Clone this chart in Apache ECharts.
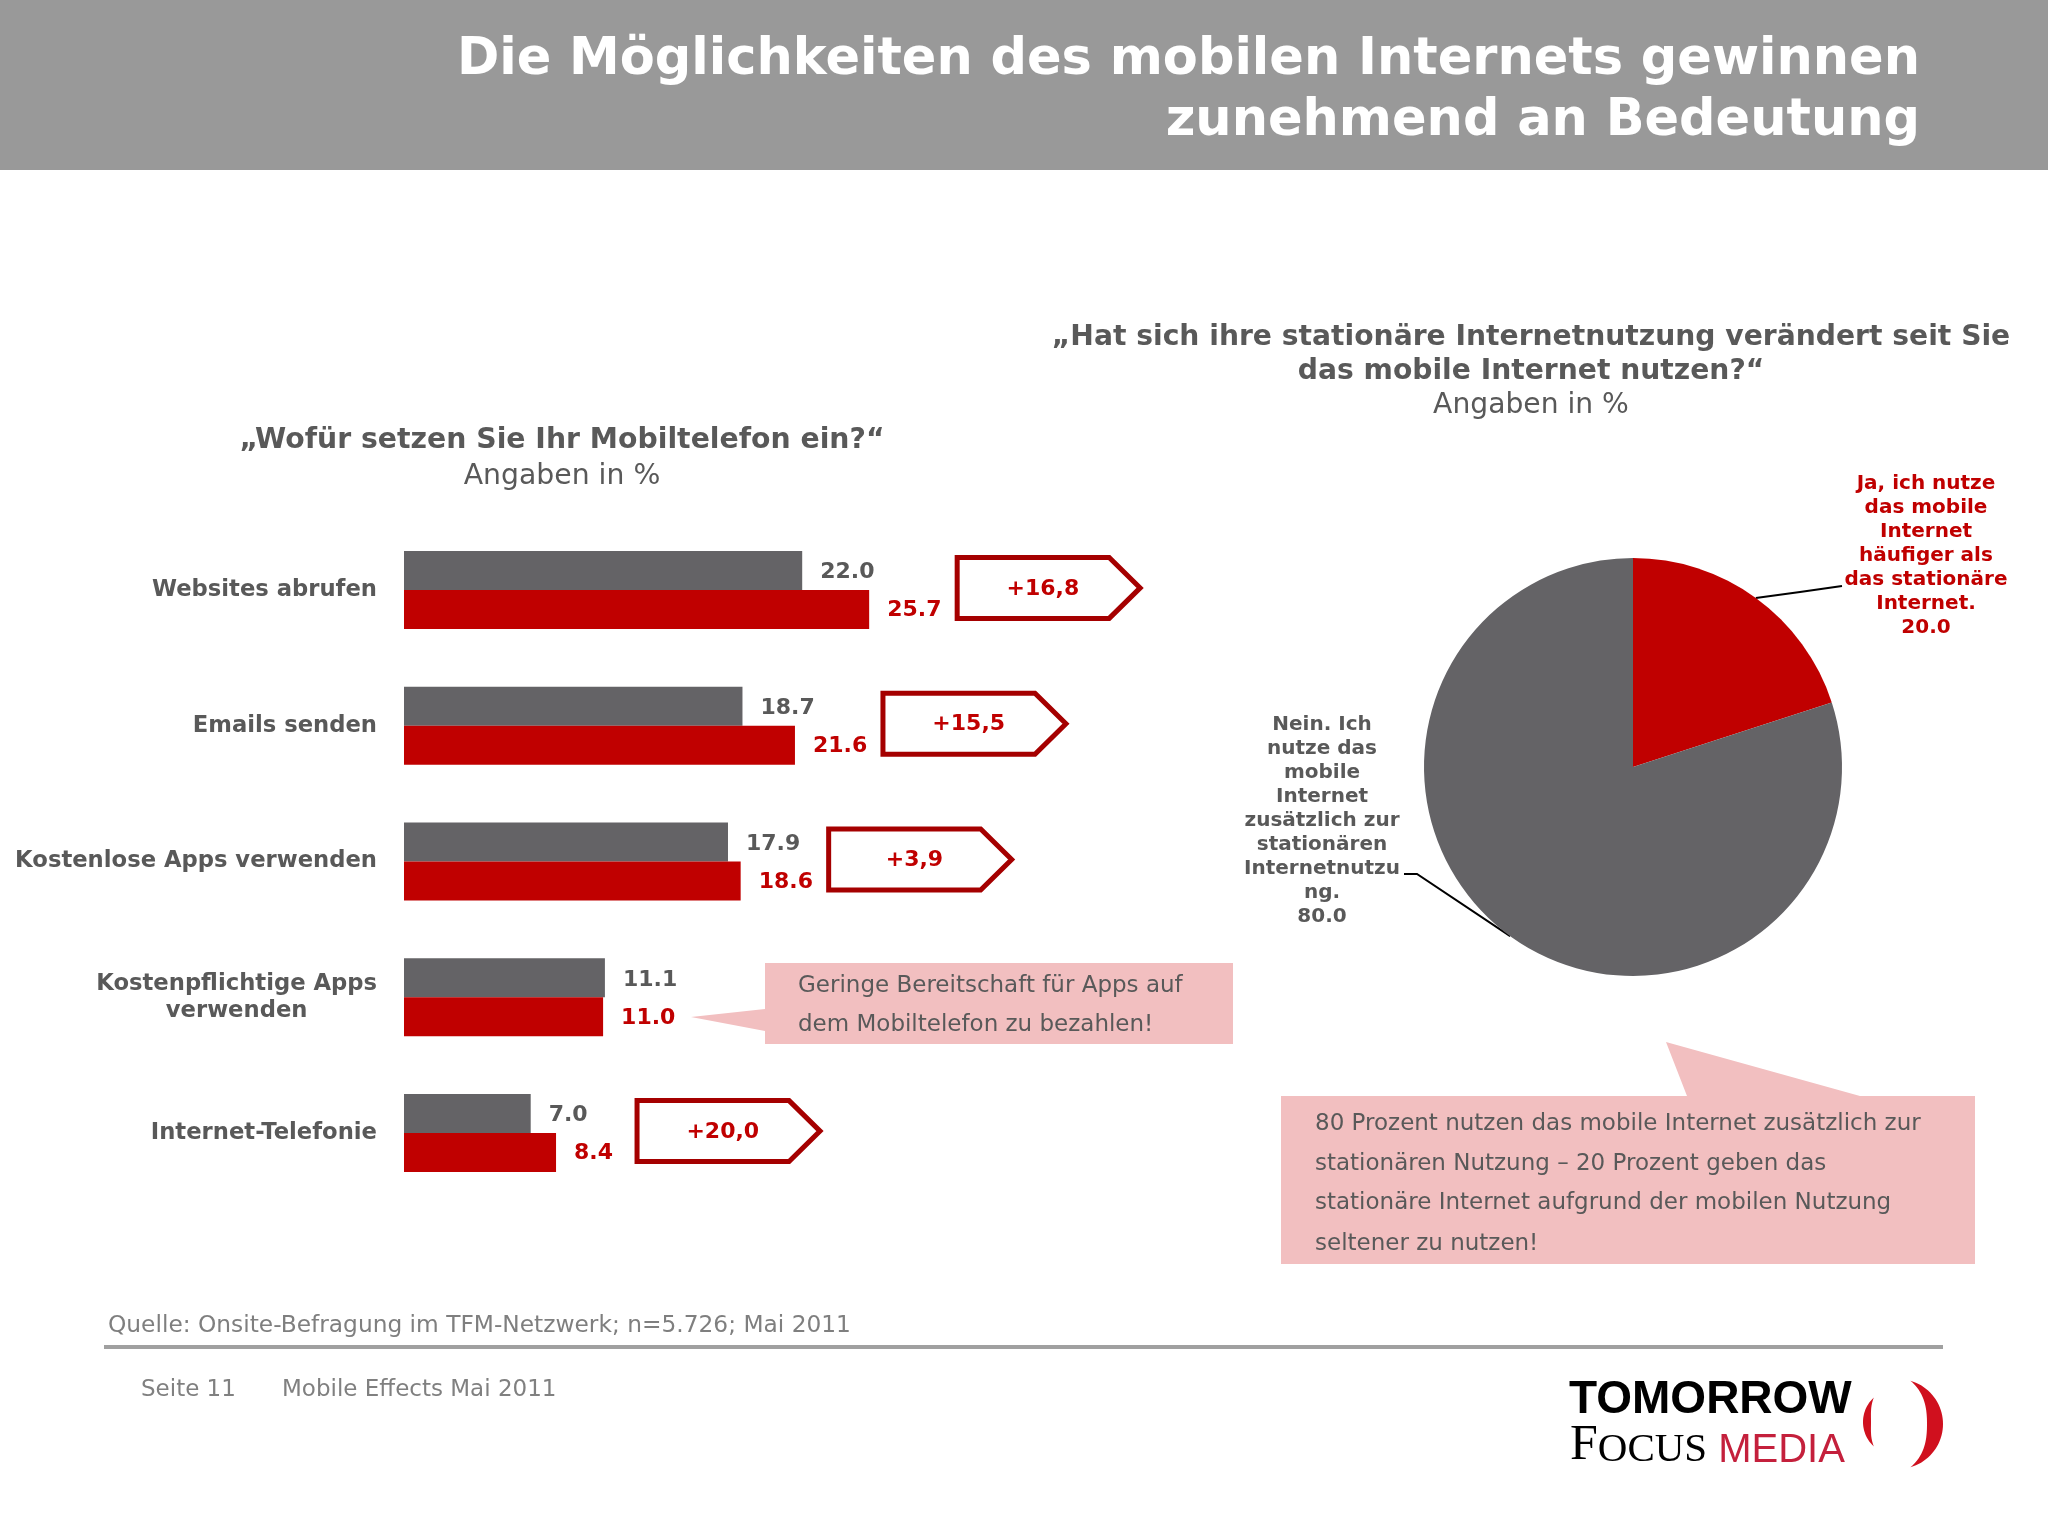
<!DOCTYPE html>
<html><head><meta charset="utf-8">
<script src="https://cdn.jsdelivr.net/npm/echarts@6/dist/echarts.min.js"></script>
<style>html,body{margin:0;padding:0;background:#fff}#c{width:2048px;height:1536px}</style>
</head><body><div id="c"></div>
<script>
// ---- data ----
const categories = ['Websites abrufen', 'Emails senden', 'Kostenlose Apps verwenden', 'Kostenpflichtige Apps\nverwenden', 'Internet-Telefonie'];
const greyValues = [22.0, 18.7, 17.9, 11.1, 7.0];
const redValues = [25.7, 21.6, 18.6, 11.0, 8.4];
const changeLabels = ['+16,8', '+15,5', '+3,9', null, '+20,0'];
const pieNames = ['Ja, ich nutze\ndas mobile\nInternet\nhäufiger als\ndas stationäre\nInternet.', 'Nein. Ich\nnutze das\nmobile\nInternet\nzusätzlich zur\nstationären\nInternetnutzu\nng.'];
const pieValues = [20.0, 80.0];

const FONT = '"DejaVu Sans", Verdana, sans-serif';
const GREY = '#646366', RED = '#c00000', TXT = '#595959', PINK = '#f2bfc0', DARKRED = '#a50000';
const PIE_C = [1633, 767], PIE_R = 209;

const chart = echarts.init(document.getElementById('c'));

const arrowData = [];
changeLabels.forEach((t, i) => { if (t) arrowData.push([redValues[i], i, t]); });

function crescent(cx, cy, R, a0, a1, w) {
  const pts = [], n = 40, mid = (a0 + a1) / 2, half = (a1 - a0) / 2;
  for (let k = 0; k <= n; k++) {
    const a = a0 + (a1 - a0) * k / n;
    pts.push([cx + R * Math.cos(a), cy + R * Math.sin(a)]);
  }
  for (let k = n; k >= 0; k--) {
    const a = a0 + (a1 - a0) * k / n;
    const th = w * Math.cos((a - mid) / half * Math.PI / 2);
    pts.push([cx + (R - th) * Math.cos(a), cy + (R - th) * Math.sin(a)]);
  }
  return pts;
}
const d2r = Math.PI / 180;

function txt(x, y, text, o) {
  return { type: 'text', x: x, y: y, silent: true, style: Object.assign({
    text: text, fontFamily: FONT, fontSize: 22, fill: TXT,
    align: 'left', verticalAlign: 'middle', textAlign: 'left', textVerticalAlign: 'middle'
  }, o || {}) };
}

// mid angle of each slice (clockwise from 12 o'clock), used for label-line start on the pie edge
const pieTotal = pieValues.reduce((a, b) => a + b, 0);
const pieMid = [];
(function () { let acc = 0; pieValues.forEach(v => { pieMid.push((acc + v / 2) / pieTotal * 360); acc += v; }); })();
function edgePoint(i, r) {
  const a = pieMid[i] * d2r;
  return [PIE_C[0] + r * Math.sin(a), PIE_C[1] - r * Math.cos(a)];
}

const option = {
  backgroundColor: '#ffffff',
  animation: false,
  grid: { left: 404, top: 522, width: 543, height: 679, containLabel: false },
  xAxis: { type: 'value', min: 0, max: 30, show: false },
  yAxis: {
    type: 'category', data: categories, inverse: true,
    axisLine: { show: false }, axisTick: { show: false }, splitLine: { show: false },
    axisLabel: {
      margin: 27, align: 'right',
      formatter: v => v.split('\n').map(l => '{c|' + l + '}').join('\n'),
      rich: { c: { align: 'center', fontFamily: FONT, fontWeight: 'bold', fontSize: 22.7, color: TXT, lineHeight: 27 } }
    }
  },
  series: [
    {
      type: 'bar', name: 'Grau', data: greyValues, barWidth: 39, barGap: '0%',
      itemStyle: { color: GREY },
      label: { show: true, position: 'right', distance: 18, offset: [0, 2], formatter: p => p.value.toFixed(1),
        fontFamily: FONT, fontWeight: 'bold', fontSize: 22, color: TXT }
    },
    {
      type: 'bar', name: 'Rot', data: redValues, barWidth: 39, barGap: '0%',
      itemStyle: { color: RED },
      label: { show: true, position: 'right', distance: 18, offset: [0, 1], formatter: p => p.value.toFixed(1),
        fontFamily: FONT, fontWeight: 'bold', fontSize: 22, color: RED }
    },
    {
      type: 'custom', name: 'Veränderung', data: arrowData, clip: false, z: 5,
      encode: { x: 0, y: 1 },
      renderItem: function (params, api) {
        const v = api.value(0);
        const p = api.coord([v, api.value(1)]);
        const lab = v.toFixed(1);
        const x0 = p[0] + 60 + lab.length * 7;
        const yc = p[1] - 2, w = 183, h = 61, tip = 31;
        const pts = [[x0, yc - h / 2], [x0 + w - tip, yc - h / 2], [x0 + w, yc], [x0 + w - tip, yc + h / 2], [x0, yc + h / 2]];
        return { type: 'group', children: [
          { type: 'polygon', shape: { points: pts }, style: { fill: '#fff', stroke: DARKRED, lineWidth: 5, lineJoin: 'miter' } },
          { type: 'text', x: x0 + (w - tip / 2) / 2 + 2, y: yc + 1, style: { text: api.value(2), fontFamily: FONT, fontWeight: 'bold', fontSize: 22, fill: RED, align: 'center', verticalAlign: 'middle' } }
        ] };
      }
    },
    {
      type: 'pie', name: 'Stationär', center: PIE_C, radius: PIE_R, startAngle: 90, clockwise: true,
      data: pieNames.map((n, i) => ({ name: n, value: pieValues[i], itemStyle: { color: i === 0 ? RED : GREY },
        label: { color: i === 0 ? RED : TXT } })),
      label: { show: true, position: 'outside', formatter: p => p.name + '\n' + p.value.toFixed(1),
        fontFamily: FONT, fontWeight: 'bold', fontSize: 20, lineHeight: 24, align: 'center' },
      labelLine: { show: true, length: 20, length2: 20, lineStyle: { color: '#000', width: 2 } },
      labelLayout: function (params) {
        if (params.dataIndex === 0) {
          const s = edgePoint(0, PIE_R);
          return { x: 1926, y: 556, align: 'center', verticalAlign: 'middle',
            labelLinePoints: [s, [1800, 592], [1842, 586]] };
        }
        const s = edgePoint(1, PIE_R);
        return { x: 1322, y: 821, align: 'center', verticalAlign: 'middle',
          labelLinePoints: [s, [1417, 874], [1404, 874]] };
      }
    }
  ],
  graphic: [
    { type: 'rect', shape: { x: 0, y: 0, width: 2048, height: 170 }, style: { fill: '#999999' }, silent: true },
    txt(1920, 61, 'Die Möglichkeiten des mobilen Internets gewinnen', { fill: '#fff', fontWeight: 'bold', fontSize: 51, align: 'right', textAlign: 'right' }),
    txt(1920, 122, 'zunehmend an Bedeutung', { fill: '#fff', fontWeight: 'bold', fontSize: 51, align: 'right', textAlign: 'right' }),
    txt(562, 441, '„Wofür setzen Sie Ihr Mobiltelefon ein?“', { fontWeight: 'bold', fontSize: 28.3, align: 'center', textAlign: 'center' }),
    txt(562, 477, 'Angaben in %', { fontSize: 28.3, align: 'center', textAlign: 'center' }),
    txt(1531, 338, '„Hat sich ihre stationäre Internetnutzung verändert seit Sie', { fontWeight: 'bold', fontSize: 28.2, align: 'center', textAlign: 'center' }),
    txt(1531, 372, 'das mobile Internet nutzen?“', { fontWeight: 'bold', fontSize: 28.2, align: 'center', textAlign: 'center' }),
    txt(1531, 406, 'Angaben in %', { fontSize: 28.2, align: 'center', textAlign: 'center' }),
    // callout 1
    { type: 'polygon', silent: true, shape: { points: [[765, 963], [1233, 963], [1233, 1044], [765, 1044], [765, 1031], [691, 1017], [765, 1009]] }, style: { fill: PINK } },
    txt(798, 986, 'Geringe Bereitschaft für Apps auf', { fontSize: 23 }),
    txt(798, 1025, 'dem Mobiltelefon zu bezahlen!', { fontSize: 23 }),
    // callout 2
    { type: 'polygon', silent: true, shape: { points: [[1281, 1096], [1687, 1096], [1666, 1042], [1860, 1096], [1975, 1096], [1975, 1264], [1281, 1264]] }, style: { fill: PINK } },
    txt(1315, 1124, '80 Prozent nutzen das mobile Internet zusätzlich zur', { fontSize: 23 }),
    txt(1315, 1164, 'stationären Nutzung – 20 Prozent geben das', { fontSize: 23 }),
    txt(1315, 1203, 'stationäre Internet aufgrund der mobilen Nutzung', { fontSize: 23 }),
    txt(1315, 1244, 'seltener zu nutzen!', { fontSize: 23 }),
    // footer
    txt(108, 1326, 'Quelle: Onsite-Befragung im TFM-Netzwerk; n=5.726; Mai 2011', { fontSize: 23.3, fill: '#7f7f7f' }),
    { type: 'rect', silent: true, shape: { x: 104, y: 1345, width: 1839, height: 4 }, style: { fill: '#a0a0a0' } },
    txt(141, 1390, 'Seite 11', { fontSize: 23, fill: '#808080' }),
    txt(282, 1390, 'Mobile Effects Mai 2011', { fontSize: 23, fill: '#808080' }),
    // logo
    txt(1569, 1400, 'TOMORROW', { fontFamily: '"Liberation Sans", Arial, sans-serif', fontWeight: 'bold', fontSize: 46, fill: '#000' }),
    txt(1570, 1446, '{f|F}{o|OCUS} {m|MEDIA}', { fontFamily: '"Liberation Serif", serif', fontSize: 44, fill: '#000',
      rich: { f: { fontFamily: '"Liberation Serif", serif', fontSize: 50, fill: '#000', verticalAlign: 'bottom' },
              o: { fontFamily: '"Liberation Serif", serif', fontSize: 41, fill: '#000', verticalAlign: 'bottom' },
              m: { fontFamily: '"Liberation Sans", Arial, sans-serif', fontSize: 40, fill: '#c4203c', verticalAlign: 'bottom' } } }),
    { type: 'polygon', silent: true, shape: { points: crescent(1898, 1424, 45, -74 * d2r, 74 * d2r, 16) }, style: { fill: '#d0101e' } },
    { type: 'polygon', silent: true, shape: { points: crescent(1896, 1422, 33, 132 * d2r, 228 * d2r, 8) }, style: { fill: '#d0101e' } }
  ]
};
chart.setOption(option);
</script></body></html>
